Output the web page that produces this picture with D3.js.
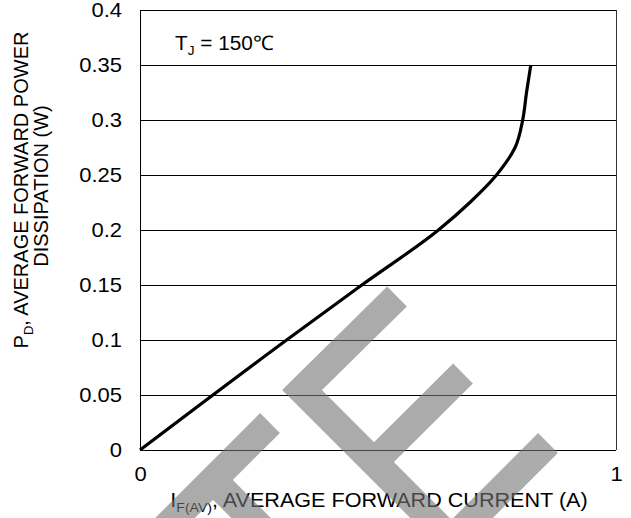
<!DOCTYPE html>
<html>
<head>
<meta charset="utf-8">
<script src="https://cdn.jsdelivr.net/npm/d3@7"></script>
<style>
    body { margin: 0; background: #fff; }
    text { font-family: "Liberation Sans", Arial, sans-serif; fill: #000; }
    .grid { stroke: #000; stroke-width: 1; shape-rendering: crispEdges; }
    .curve { fill: none; stroke: #000; stroke-width: 3.2; }
    .mark { fill: none; stroke: #757575; stroke-width: 28; stroke-linecap: butt; stroke-linejoin: miter; }
</style>
</head>
<body>
<script>
//curve: forward current (A) vs power dissipation (W)
var current = [0, 0.308, 0.466, 0.627, 0.693, 0.749, 0.788, 0.804, 0.812, 0.821];
var power = [0, 0.1, 0.15, 0.2, 0.225, 0.25, 0.275, 0.3, 0.325, 0.35];

//axis ticks
var yTicks = [0, 0.05, 0.1, 0.15, 0.2, 0.25, 0.3, 0.35, 0.4];
var yTickLabels = ["0", "0.05", "0.1", "0.15", "0.2", "0.25", "0.3", "0.35", "0.4"];
var xTicks = [0, 1];
var xTickLabels = ["0", "1"];

//grey watermark strokes (page pixels)
var watermark = [
    [[270, 423], [165, 528]],
    [[213, 480], [263, 530]],
    [[397, 296.5], [302, 390], [442, 530]],
    [[374, 462], [463, 373.5]],
    [[548, 443], [458, 533]]
];

window.onload = setChart();

function setChart(){
    var width = 631,
        height = 518;

    //the reference lettering is a bit wide
    var stretch = 1.1;

    var svg = d3.select("body")
        .append("svg")
        .attr("width", width)
        .attr("height", height);

    //plot frame
    var left = 140, right = 616, top = 10, bottom = 450;

    var x = d3.scaleLinear().domain([0, 1]).range([left, right]);
    var y = d3.scaleLinear().domain([0, 0.4]).range([bottom, top]);

    //horizontal gridlines
    svg.selectAll(".hgrid")
        .data(yTicks)
        .enter()
        .append("line")
        .attr("class", "grid")
        .attr("x1", left)
        .attr("x2", right)
        .attr("y1", function(d){ return y(d); })
        .attr("y2", function(d){ return y(d); });

    //left and right borders
    svg.selectAll(".vgrid")
        .data(xTicks)
        .enter()
        .append("line")
        .attr("class", "grid")
        .attr("x1", function(d){ return x(d); })
        .attr("x2", function(d){ return x(d); })
        .attr("y1", top)
        .attr("y2", bottom)
        .style("stroke", function(d, i){ return i ? "#333" : "#000"; });

    //y axis labels
    var yAxis = d3.axisLeft(y)
        .tickValues(yTicks)
        .tickSize(0)
        .tickFormat(function(d, i){ return yTickLabels[i]; });

    svg.append("g")
        .attr("transform", "translate(" + left + ",0)")
        .call(yAxis)
        .call(function(g){ g.select(".domain").remove(); })
        .selectAll("text")
        .attr("x", 0)
        .attr("transform", "translate(-18,0) scale(" + stretch + ",1)")
        .style("font-size", "20px")
        .style("font-family", "Liberation Sans, Arial, sans-serif");

    //x axis labels
    var xAxis = d3.axisBottom(x)
        .tickValues(xTicks)
        .tickSize(0)
        .tickPadding(17)
        .tickFormat(function(d, i){ return xTickLabels[i]; });

    svg.append("g")
        .attr("transform", "translate(0," + bottom + ")")
        .call(xAxis)
        .call(function(g){ g.select(".domain").remove(); })
        .selectAll("text")
        .attr("transform", "scale(" + stretch + ",1)")
        .style("font-size", "20px")
        .style("font-family", "Liberation Sans, Arial, sans-serif");

    //power curve
    var pts = current.map(function(c, i){ return [c, power[i]]; });
    var line = d3.line()
        .x(function(d){ return x(d[0]); })
        .y(function(d){ return y(d[1]); })
        .curve(d3.curveMonotoneY);

    svg.append("path")
        .datum(pts)
        .attr("class", "curve")
        .attr("d", line);

    //junction temperature note
    var note = svg.append("text")
        .attr("transform", "translate(175,50) scale(1.04,1)")
        .style("font-size", "20px");
    note.append("tspan").text("T");
    note.append("tspan").attr("dy", 5).style("font-size", "13px").text("J");
    note.append("tspan").attr("dy", -5).text(" = 150\u2103");

    //x axis title
    var xTitle = svg.append("text")
        .attr("transform", "translate(" + ((left + right) / 2 + 1) + ",507) scale(1.08,1)")
        .attr("text-anchor", "middle")
        .style("font-size", "20px");
    xTitle.append("tspan").text("I");
    xTitle.append("tspan").attr("dy", 5).style("font-size", "13px").text("F(AV)");
    xTitle.append("tspan").attr("dy", -5).text(", AVERAGE FORWARD CURRENT (A)");

    //y axis title, two lines
    var yTitle = svg.append("text")
        .attr("transform", "translate(28,190) rotate(-90)")
        .attr("text-anchor", "middle")
        .style("font-size", "20px");
    yTitle.append("tspan").text("P");
    yTitle.append("tspan").attr("dy", 5).style("font-size", "13px").text("D");
    yTitle.append("tspan").attr("dy", -5).text(", AVERAGE FORWARD POWER");

    svg.append("text")
        .attr("transform", "translate(48,186) rotate(-90)")
        .attr("text-anchor", "middle")
        .style("font-size", "20px")
        .text("DISSIPATION (W)");

    //watermark on top, see-through
    svg.append("g")
        .attr("opacity", 0.6)
        .selectAll("path")
        .data(watermark)
        .enter()
        .append("path")
        .attr("class", "mark")
        .attr("d", d3.line());
}
</script>
</body>
</html>
